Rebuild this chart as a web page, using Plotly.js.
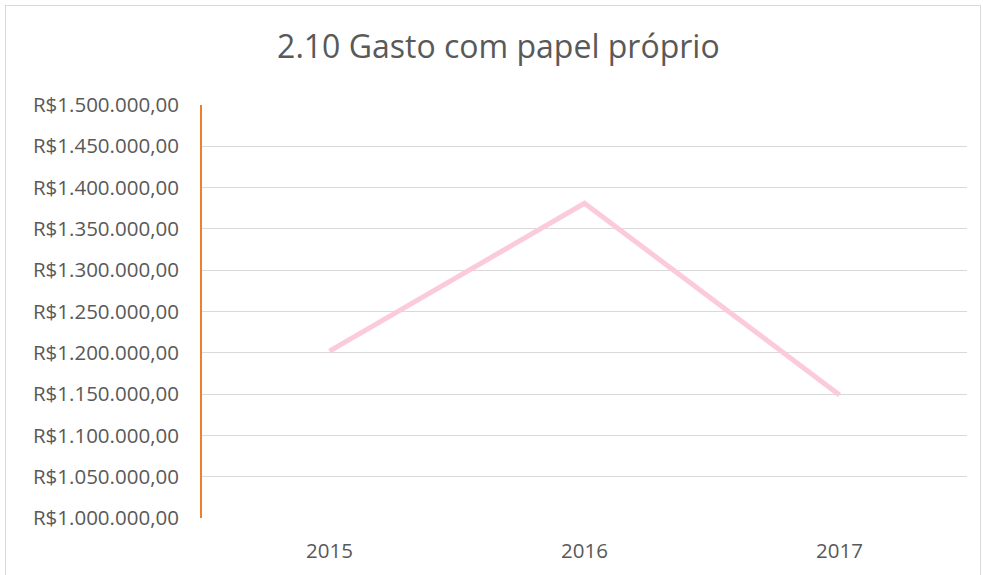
<!DOCTYPE html>
<html>
<head>
<meta charset="utf-8">
<script src="https://cdn.plot.ly/plotly-3.0.1.min.js"></script>
<style>
html,body{margin:0;padding:0;background:#fff;}
#chart{position:absolute;left:0;top:0;width:983px;height:575px;}
#frame{position:absolute;left:5px;top:5px;width:974px;height:580px;border:1px solid #d9d9d9;pointer-events:none;}
</style>
</head>
<body>
<div id="chart"></div>
<div id="frame"></div>
<script>
const years = ['2015', '2016', '2017'];
const gasto = [1202000, 1381000, 1149000];
const tickVals = [1000000,1050000,1100000,1150000,1200000,1250000,1300000,1350000,1400000,1450000,1500000];
const tickText = ['R$1.000.000,00','R$1.050.000,00','R$1.100.000,00','R$1.150.000,00','R$1.200.000,00','R$1.250.000,00','R$1.300.000,00','R$1.350.000,00','R$1.400.000,00','R$1.450.000,00','R$1.500.000,00'];
const chartTitle = '2.10 Gasto com papel próprio';

const trace = {
  x: years, y: gasto, type: 'scatter', mode: 'lines',
  line: {color: '#FBCADB', width: 5},
  hoverinfo: 'skip'
};
const layout = {
  width: 983, height: 575,
  margin: {l: 202, r: 16, t: 105, b: 57},
  paper_bgcolor: 'rgba(0,0,0,0)', plot_bgcolor: '#fff',
  showlegend: false,
  font: {family: 'Open Sans, sans-serif', color: '#595959'},
  title: {text: chartTitle, font: {size: 32, color: '#595959', family: 'Open Sans, sans-serif'},
          xref: 'container', x: 0.507, xanchor: 'center', yref: 'container', y: 0.919, yanchor: 'middle'},
  xaxis: {type: 'category', showgrid: false, zeroline: false, showline: false, ticks: '',
          tickfont: {size: 20.5, color: '#595959'}, ticklabelstandoff: 18, range: [-0.5, 2.5], fixedrange: true},
  yaxis: {range: [1000000, 1500000], tickvals: tickVals, ticktext: tickText,
          showgrid: true, gridcolor: '#d9d9d9', gridwidth: 1, zeroline: false,
          showline: true, linecolor: '#ED7D31', linewidth: 2, ticks: '',
          tickfont: {size: 20.5, color: '#595959'}, ticklabelstandoff: 17, fixedrange: true}
};
Plotly.newPlot('chart', [trace], layout, {displayModeBar: false, staticPlot: true});
</script>
</body>
</html>
